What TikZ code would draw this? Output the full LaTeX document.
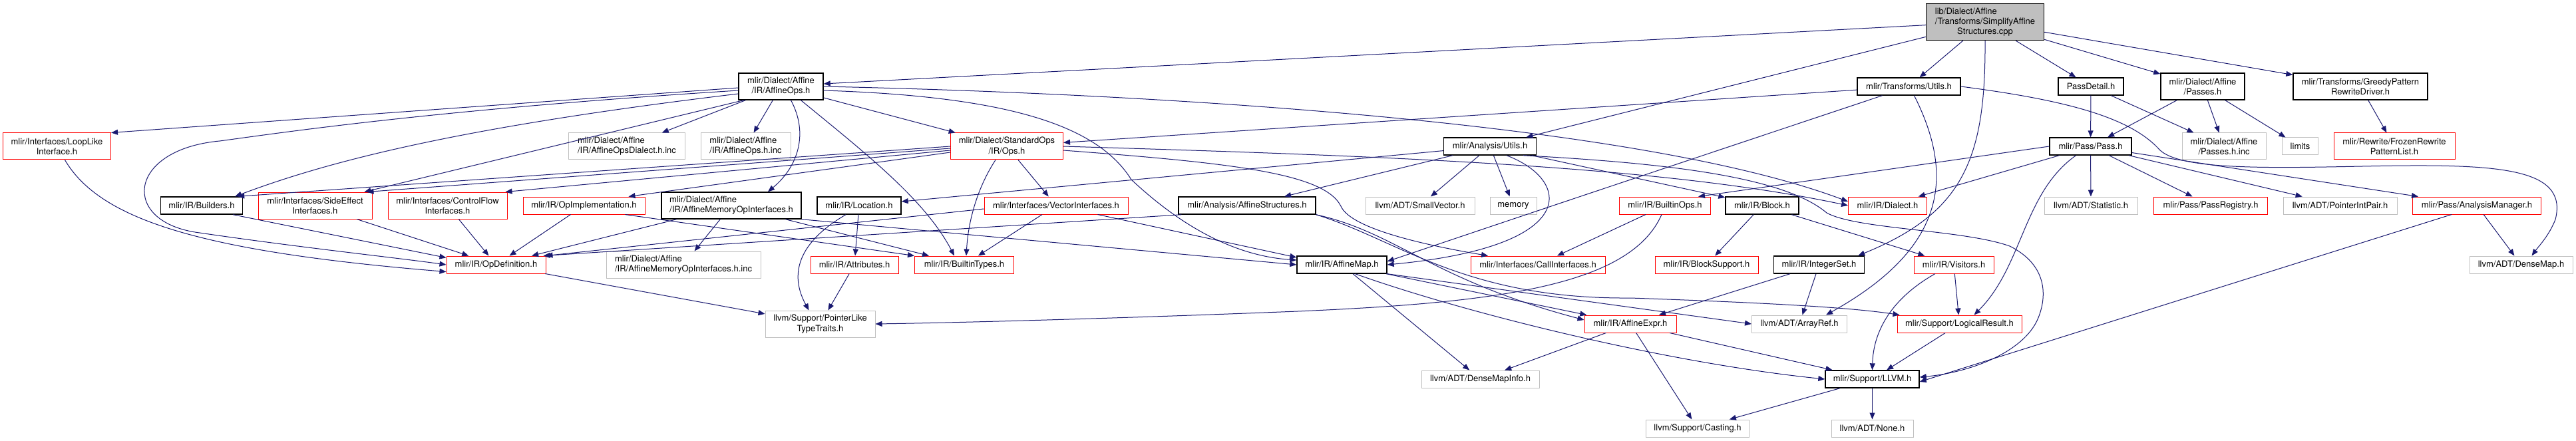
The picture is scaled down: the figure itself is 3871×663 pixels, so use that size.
\documentclass[tikz,border=0pt]{standalone}
\usepackage{fontspec}
\setmainfont{TeX Gyre Heros}
\usepackage{tikz}
\usetikzlibrary{arrows.meta}
\definecolor{edgeblue}{HTML}{191970}
\definecolor{grey75}{HTML}{BFBFBF}
\newcommand{\lpad}[2]{\makebox[0pt][l]{#1}\phantom{#2}}

\begin{document}
\begin{tikzpicture}[
    x=1pt, y=-1pt,
    hdr/.style={rectangle, draw, line width=1pt, inner sep=2pt,
                align=center, font=\fontsize{13}{15.2}\selectfont},
    doc/.style={hdr, draw=black, line width=1.4pt},
    trunc/.style={hdr, draw=red},
    ext/.style={hdr, draw=grey75},
    srcnode/.style={doc, fill=grey75},
    l1/.style={minimum height=26pt},
    l2/.style={minimum height=40pt},
    l3/.style={minimum height=55pt},
    wd/.style={minimum width=#1pt},
    arr/.style={-{Triangle[length=10pt,width=8pt]}, draw=edgeblue, line width=1pt}
  ]
  \useasboundingbox (0,0) rectangle (3871,663);

  \node[srcnode, l3, wd=177] (src) at (2983,33)
    {\lpad{lib/Dialect/Affine}{/Transforms/SimplifyAffine}\\/Transforms/SimplifyAffine\\Structures.cpp};

  \node[doc, l2, wd=127] (affineops) at (1173.5,130) {mlir/Dialect/Affine\\/IR/AffineOps.h};
  \node[doc, l1, wd=155] (tutils) at (2868.5,130) {mlir/Transforms/Utils.h};
  \node[doc, l1, wd=98] (passdetail) at (3142,130) {PassDetail.h};
  \node[doc, l2, wd=126] (passes) at (3310,130) {mlir/Dialect/Affine\\/Passes.h};
  \node[doc, l2, wd=202] (greedy) at (3547,130) {mlir/Transforms/GreedyPattern\\RewriteDriver.h};

  \node[trunc, l2, wd=162] (looplike) at (85.5,220) {mlir/Interfaces/LoopLike\\Interface.h};
  \node[ext, l2, wd=175, align=left] (dialectinc) at (942,220) {mlir/Dialect/Affine\\/IR/AffineOpsDialect.h.inc};
  \node[ext, l2, wd=135, align=left] (opsinc) at (1120.5,220) {mlir/Dialect/Affine\\/IR/AffineOps.h.inc};
  \node[trunc, l2, wd=169] (stdops) at (1513,220) {mlir/Dialect/StandardOps\\/IR/Ops.h};
  \node[doc, l1, wd=139] (autils) at (2239,220) {mlir/Analysis/Utils.h};
  \node[doc, l1, wd=123] (pass) at (3141.5,220) {mlir/Pass/Pass.h};
  \node[ext, l2, wd=126] (passesinc) at (3342,220) {mlir/Dialect/Affine\\/Passes.h.inc};
  \node[ext, l1, wd=54] (limits) at (3456.5,220) {limits};
  \node[trunc, l2, wd=182] (frozen) at (3598,220) {mlir/Rewrite/FrozenRewrite\\PatternList.h};

  \node[doc, l1, wd=123] (builders) at (303,309) {mlir/IR/Builders.h};
  \node[trunc, l2, wd=171] (sideeffect) at (473.5,309) {mlir/Interfaces/SideEffect\\Interfaces.h};
  \node[trunc, l2, wd=179] (controlflow) at (672.5,309) {mlir/Interfaces/ControlFlow\\Interfaces.h};
  \node[trunc, l1, wd=183] (opimpl) at (877.5,309) {mlir/IR/OpImplementation.h};
  \node[doc, l2, wd=210, align=left] (memopif) at (1099,309) {mlir/Dialect/Affine\\/IR/AffineMemoryOpInterfaces.h};
  \node[doc, l1, wd=126] (location) at (1291,309) {mlir/IR/Location.h};
  \node[trunc, l1, wd=216] (vectorif) at (1587,309) {mlir/Interfaces/VectorInterfaces.h};
  \node[doc, l1, wd=206] (affstruct) at (1874,309) {mlir/Analysis/AffineStructures.h};
  \node[ext, l1, wd=164] (smallvec) at (2134,309) {llvm/ADT/SmallVector.h};
  \node[ext, l1, wd=70] (memory) at (2274,309) {memory};
  \node[trunc, l1, wd=137] (builtinops) at (2502,309) {mlir/IR/BuiltinOps.h};
  \node[doc, l1, wd=110] (block) at (2648,309) {mlir/IR/Block.h};
  \node[trunc, l1, wd=118] (dialect) at (2836.5,309) {mlir/IR/Dialect.h};
  \node[ext, l1, wd=140] (statistic) at (3142,309) {llvm/ADT/Statistic.h};
  \node[trunc, l1, wd=171] (passreg) at (3322,309) {mlir/Pass/PassRegistry.h};
  \node[ext, l1, wd=171] (ptrintpair) at (3516.5,309) {llvm/ADT/PointerIntPair.h};
  \node[trunc, l1, wd=193] (analysismgr) at (3722,309) {mlir/Pass/AnalysisManager.h};

  \node[trunc, l1, wd=149] (opdef) at (745.5,398) {mlir/IR/OpDefinition.h};
  \node[ext, l2, wd=232, align=left] (memopifinc) at (1027,398) {mlir/Dialect/Affine\\/IR/AffineMemoryOpInterfaces.h.inc};
  \node[trunc, l1, wd=132] (attributes) at (1284,398) {mlir/IR/Attributes.h};
  \node[trunc, l1, wd=149] (builtintypes) at (1449,398) {mlir/IR/BuiltinTypes.h};
  \node[doc, l1, wd=135] (affinemap) at (2016.5,398) {mlir/IR/AffineMap.h};
  \node[trunc, l1, wd=202] (callif) at (2311,398) {mlir/Interfaces/CallInterfaces.h};
  \node[trunc, l1, wd=155] (blocksupport) at (2564.5,398) {mlir/IR/BlockSupport.h};
  \node[doc, l1, wd=136] (integerset) at (2733.5,398) {mlir/IR/IntegerSet.h};
  \node[trunc, l1, wd=120] (visitors) at (2936,398) {mlir/IR/Visitors.h};
  \node[ext, l1, wd=155] (densemap) at (3788.5,398) {llvm/ADT/DenseMap.h};

  \node[ext, l2, wd=165] (ptrlike) at (1232.5,487) {llvm/Support/PointerLike\\TypeTraits.h};
  \node[trunc, l1, wd=138] (affineexpr) at (2450,487) {mlir/IR/AffineExpr.h};
  \node[ext, l1, wd=143] (arrayref) at (2704,487) {llvm/ADT/ArrayRef.h};
  \node[trunc, l1, wd=187] (logicalres) at (2944.5,487) {mlir/Support/LogicalResult.h};

  \node[ext, l1, wd=177] (densemapinfo) at (2224.5,570) {llvm/ADT/DenseMapInfo.h};
  \node[doc, l1, wd=141] (llvm) at (2813.5,570) {mlir/Support/LLVM.h};

  \node[ext, l1, wd=155] (casting) at (2551,644) {llvm/Support/Casting.h};
  \node[ext, l1, wd=123] (none) at (2813.5,644) {llvm/ADT/None.h};

  \draw[arr] (src) -- ([yshift=4pt]affineops.east);
  \draw[arr] (src) -- (autils);
  \draw[arr] (src) -- (tutils);
  \draw[arr] (src) -- (passdetail);
  \draw[arr] (src) -- (passes);
  \draw[arr] (src) -- (greedy);
  \draw[arr] (src.south) .. controls (2984,240) and (2950,320) .. ([xshift=-10pt]integerset.north east);

  \draw[arr] ([yshift=-2pt]affineops.west) -- (looplike.north east);
  \draw[arr] ([yshift=-6pt]affineops.west) .. controls (650,165) and (420,200) .. (330,212)
    .. controls (190,225) and (180,335) .. (300,350) .. controls (450,372) and (600,388) .. (opdef.west);
  \draw[arr] ([yshift=-11pt]affineops.west) .. controls (700,190) and (500,240) .. ([xshift=-12pt]builders.north east);
  \draw[arr] ([xshift=8pt]affineops.south west) -- ([xshift=-12pt]sideeffect.north east);
  \draw[arr] (affineops) -- (dialectinc);
  \draw[arr] (affineops) -- (opsinc);
  \draw[arr] ([xshift=15pt]affineops.south) .. controls (1215,200) and (1200,250) .. ([xshift=55pt]memopif.north);
  \draw[arr] ([xshift=30pt]affineops.south) .. controls (1300,230) and (1390,300) .. ([xshift=-15pt]builtintypes.north);
  \draw[arr] (affineops) -- (stdops);
  \draw[arr] ([yshift=-6pt]affineops.east) .. controls (1520,145) and (1650,190) .. (1700,270)
    .. controls (1780,345) and (1860,385) .. ([yshift=7pt]affinemap.west);
  \draw[arr] (affineops.east) .. controls (1700,140) and (2450,180) .. ([yshift=6pt]dialect.west);

  \draw[arr] (tutils) -- (stdops);
  \draw[arr] ([xshift=-40pt]tutils.south) .. controls (2600,220) and (2330,310) .. ([yshift=5pt]affinemap.east);
  \draw[arr] (tutils.east) .. controls (3100,150) and (3200,175) .. (3245,225)
    .. controls (3275,255) and (3400,253) .. (3550,250) .. controls (3750,246) and (3860,250) .. (3840,330)
    .. controls (3830,355) and (3815,370) .. ([xshift=16pt]densemap.north);
  \draw[arr] ([xshift=8pt]tutils.south) .. controls (2935,260) and (2930,370) .. ([xshift=40pt]arrayref.north);

  \draw[arr] (passdetail) -- (pass);
  \draw[arr] (passdetail) -- (passesinc);
  \draw[arr] (passes) -- (pass);
  \draw[arr] (passes) -- (passesinc);
  \draw[arr] (passes) -- (limits);
  \draw[arr] (greedy) -- (frozen);

  \draw[arr] ([xshift=12pt]looplike.south) .. controls (150,330) and (300,378) .. (opdef.188);

  \draw[arr] (stdops.west) -- ([xshift=-8pt]builders.north east);
  \draw[arr] ([yshift=-3pt]stdops.west) -- ([xshift=-8pt]sideeffect.north east);
  \draw[arr] ([yshift=-6pt]stdops.west) -- ([xshift=-3pt]controlflow.north east);
  \draw[arr] ([yshift=-9pt]stdops.west) -- ([xshift=-25pt]opimpl.north east);
  \draw[arr] ([xshift=-17pt]stdops.south) .. controls (1470,280) and (1455,330) .. ([xshift=3pt]builtintypes.north);
  \draw[arr] (stdops) -- (vectorif);
  \draw[arr] ([yshift=-6pt]stdops.east) .. controls (1850,245) and (1990,260) .. (2015,310)
    .. controls (2030,345) and (2150,370) .. ([xshift=-75pt]callif.north);
  \draw[arr] (stdops.east) .. controls (2100,235) and (2500,250) .. (dialect.west);

  \draw[arr] (autils) -- (location);
  \draw[arr] (autils) -- (affstruct);
  \draw[arr] (autils) -- (smallvec);
  \draw[arr] (autils) -- (memory);
  \draw[arr] ([xshift=25pt]autils.south) .. controls (2360,270) and (2380,370) .. (affinemap.east);
  \draw[arr] (autils) -- (block);
  \draw[arr] ([xshift=-20pt]autils.south east) .. controls (2500,245) and (2680,265) .. (2745,320)
    .. controls (2790,345) and (2950,345) .. (3020,370) .. controls (3080,400) and (3075,450) .. (3062,480)
    .. controls (3040,530) and (2960,560) .. ([yshift=3pt]llvm.east);

  \draw[arr] (pass.west) -- ([xshift=50pt]builtinops.north);
  \draw[arr] (pass) -- (dialect);
  \draw[arr] (pass) -- (statistic);
  \draw[arr] (pass) -- (passreg);
  \draw[arr] (pass) -- (ptrintpair);
  \draw[arr] (pass) -- (analysismgr);
  \draw[arr] ([xshift=-22pt]pass.south) .. controls (3040,290) and (3040,400) .. ([xshift=22pt]logicalres.north);

  \draw[arr] ([xshift=-15pt]builders.south east) -- (opdef.172);
  \draw[arr] (sideeffect) -- (opdef);
  \draw[arr] (controlflow) -- (opdef);
  \draw[arr] (opimpl) -- (opdef);
  \draw[arr] ([xshift=-30pt]opimpl.south east) -- (builtintypes.north west);
  \draw[arr] (memopif) -- (opdef);
  \draw[arr] (memopif) -- (memopifinc);
  \draw[arr] (memopif) -- (builtintypes);
  \draw[arr] (memopif.south east) -- (affinemap.west);
  \draw[arr] (location) -- (attributes);
  \draw[arr] ([xshift=-20pt]location.south) .. controls (1190,370) and (1190,420) .. ([xshift=-17pt]ptrlike.north);
  \draw[arr] (vectorif) -- (builtintypes);
  \draw[arr] ([yshift=-5pt]vectorif.west) -- (opdef.north east);
  \draw[arr] (vectorif) -- ([yshift=11pt]affinemap.west);
  \draw[arr] ([xshift=5pt]affstruct.south west) -- ([xshift=-4pt]opdef.north east);
  \draw[arr] (affstruct.south east) .. controls (2100,350) and (2150,420) .. ([yshift=6pt]affineexpr.west);
  \draw[arr] (affstruct.south east) .. controls (2100,360) and (2200,450) .. (2450,448)
    .. controls (2650,455) and (2780,462) .. ([xshift=4pt]logicalres.north west);
  \draw[arr] ([xshift=-5pt]builtinops.south) .. controls (2450,430) and (2250,455) .. (1950,468)
    .. controls (1700,478) and (1450,485) .. (ptrlike.east);
  \draw[arr] (builtinops) -- (callif);
  \draw[arr] (block) -- (blocksupport);
  \draw[arr] (block) -- (visitors);
  \draw[arr] (analysismgr) -- (densemap);
  \draw[arr] ([xshift=-38pt]analysismgr.south) -- ([yshift=-4pt]llvm.east);

  \draw[arr] (opdef) -- (ptrlike);
  \draw[arr] (attributes) -- (ptrlike);
  \draw[arr] (affinemap) -- (densemapinfo);
  \draw[arr] (affinemap) -- (affineexpr);
  \draw[arr] ([xshift=20pt]affinemap.south) .. controls (2200,470) and (2500,545) .. (llvm.west);
  \draw[arr] (affinemap.south east) -- (arrayref.west);
  \draw[arr] (integerset) -- (affineexpr);
  \draw[arr] (integerset) -- (arrayref);
  \draw[arr] ([xshift=-28pt]visitors.south) .. controls (2840,450) and (2815,500) .. (llvm.north);
  \draw[arr] (visitors) -- (logicalres);

  \draw[arr] (affineexpr) -- (densemapinfo);
  \draw[arr] (affineexpr) -- (casting);
  \draw[arr] (affineexpr) -- (llvm);
  \draw[arr] (logicalres) -- (llvm);
  \draw[arr] (llvm) -- (casting);
  \draw[arr] (llvm) -- (none);
\end{tikzpicture}
\end{document}
